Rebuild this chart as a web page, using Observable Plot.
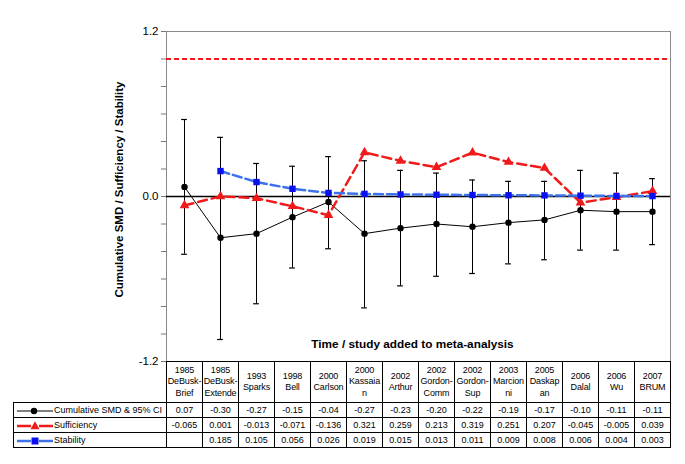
<!DOCTYPE html>
<html>
<head>
<meta charset="utf-8">
<script src="https://cdn.jsdelivr.net/npm/d3@7"></script>
<script src="https://cdn.jsdelivr.net/npm/@observablehq/plot@0.6"></script>
<style>
  body { margin: 0; background: #fff; font-family: "Liberation Sans", Arial, sans-serif; }
  #wrap { position: relative; width: 685px; height: 464px; overflow: hidden; }
  #wrap svg.plot { position: absolute; left: 0; top: 0; }
  table { border-collapse: collapse; position: absolute; left: 13px; top: 361px; table-layout: fixed; font-size: 9px; color: #000; }
  td { border: 1px solid #000; padding: 0; text-align: center; overflow: hidden; white-space: pre-line; }
  tr.head td { height: 40px; line-height: 11.5px; letter-spacing: -0.15px; }
  tr.data td { height: 14px; line-height: 14px; }
  td.blank { border: none; }
  td.leg { text-align: left; white-space: nowrap; }
  td.leg svg { vertical-align: middle; }
</style>
</head>
<body>
<div id="wrap"></div>
<script>
// ---- data ----
const years = ["1985","1985","1993","1998","2000","2000","2002","2002","2002","2003","2005","2006","2006","2007"];
const studies = ["DeBusk-\nBrief","DeBusk-\nExtende","Sparks","Bell","Carlson","Kassaia\nn","Arthur","Gordon-\nComm","Gordon-\nSup","Marcion\nni","Daskap\nan","Dalal","Wu","BRUM"];
const smd = [0.07,-0.30,-0.27,-0.15,-0.04,-0.27,-0.23,-0.20,-0.22,-0.19,-0.17,-0.10,-0.11,-0.11];
const ciLow = [-0.42,-1.04,-0.78,-0.52,-0.38,-0.81,-0.65,-0.58,-0.56,-0.49,-0.46,-0.39,-0.39,-0.35];
const ciHigh = [0.56,0.43,0.24,0.22,0.29,0.26,0.19,0.17,0.12,0.11,0.11,0.19,0.17,0.13];
const sufficiency = [-0.065,0.001,-0.013,-0.071,-0.136,0.321,0.259,0.213,0.319,0.251,0.207,-0.045,-0.005,0.039];
const stability = [null,0.185,0.105,0.056,0.026,0.019,0.015,0.013,0.011,0.009,0.008,0.006,0.004,0.003];
const sufficiencyThreshold = [1.0];
const yTicks = [-1.2,-1.0,-0.8,-0.6,-0.4,-0.2,0,0.2,0.4,0.6,0.8,1.0,1.2];
const yTickLabels = {"-1.2": "-1.2", "0": "0.0", "1.2": "1.2"};
const seriesNames = ["Cumulative SMD & 95% CI", "Sufficiency", "Stability"];
const yTitle = "Cumulative SMD / Sufficiency / Stability";
const xTitle = "Time / study added to meta-analysis";

// ---- colours ----
const RED = "#f01a1a";
const BLUE_LINE = "#3d72ea";
const BLUE_MARK = "#0a10f0";

const idx = d3.range(years.length);
const rows = idx.map(i => ({i, smd: smd[i], lo: ciLow[i], hi: ciHigh[i], suf: sufficiency[i], stab: stability[i]}));
const capHalf = 0.08;

const plot = Plot.plot({
  width: 685,
  height: 464,
  marginTop: 31,
  marginBottom: 103,
  marginLeft: 166,
  marginRight: 15,
  style: {fontFamily: "'Liberation Sans', Arial, sans-serif", fontSize: "11.5px", background: "#fff", color: "#000"},
  x: {type: "linear", domain: [-0.5, years.length - 0.5], axis: null},
  y: {domain: [-1.2, 1.2]},
  marks: [
    Plot.frame({stroke: "#8a8a8a"}),
    Plot.axisY({ticks: yTicks, tickFormat: d => yTickLabels[String(+d.toFixed(1))] ?? "", tickSize: 5, tickPadding: 3, label: null, stroke: "#777", fill: "#000", fontSize: 11.5}),
    Plot.ruleY([0], {stroke: "#000", strokeWidth: 1.5}),
    Plot.ruleY(sufficiencyThreshold, {stroke: RED, strokeWidth: 1.8, strokeDasharray: "5,3"}),
    // error bars
    Plot.ruleX(rows, {x: "i", y1: "lo", y2: "hi", stroke: "#000", strokeWidth: 1}),
    Plot.ruleY(rows, {y: "hi", x1: d => d.i - capHalf, x2: d => d.i + capHalf, stroke: "#000", strokeWidth: 1.2}),
    Plot.ruleY(rows, {y: "lo", x1: d => d.i - capHalf, x2: d => d.i + capHalf, stroke: "#000", strokeWidth: 1.2}),
    Plot.line(rows, {x: "i", y: "smd", stroke: "#000", strokeWidth: 1}),
    Plot.dot(rows, {x: "i", y: "smd", r: 3.2, fill: "#000", stroke: "none"}),
    Plot.line(rows, {x: "i", y: "suf", stroke: RED, strokeWidth: 2.5, strokeDasharray: "9,5"}),
    Plot.dot(rows, {x: "i", y: "suf", symbol: "triangle", r: 3.6, fill: RED, stroke: "none"}),
    Plot.line(rows.filter(d => d.stab != null), {x: "i", y: "stab", stroke: BLUE_LINE, strokeWidth: 2.5, strokeDasharray: "9,4"}),
    Plot.dot(rows.filter(d => d.stab != null), {x: "i", y: "stab", symbol: "square", r: 3.6, fill: BLUE_MARK, stroke: "none"}),
    Plot.text([yTitle], {frameAnchor: "left", textAnchor: "middle", lineAnchor: "middle", rotate: -90, dx: -47, dy: -7, fontWeight: "bold", fontSize: 11.5, fill: "#000"}),
    Plot.text([xTitle], {frameAnchor: "bottom", dx: -6, dy: -14, fontWeight: "bold", fontSize: 11.8, fill: "#000"})
  ]
});
plot.classList.add("plot");
const wrap = document.getElementById("wrap");
wrap.appendChild(plot);

// ---- data table below the plot, aligned to the x scale ----
const xs = plot.scale("x");
const colW = xs.apply(1) - xs.apply(0);
const left0 = 13;
const legW = xs.apply(-0.5) - left0;

const table = d3.select(wrap).append("table");
const cg = table.append("colgroup");
cg.append("col").style("width", legW + "px");
idx.forEach(() => cg.append("col").style("width", colW + "px"));
table.style("width", (legW + colW * years.length) + "px");

const head = table.append("tr").attr("class", "head");
head.append("td").attr("class", "blank");
idx.forEach(i => head.append("td").text(years[i] + "\n" + studies[i]));

function swatch(kind) {
  const s = d3.create("svg").attr("width", 40).attr("height", 10);
  if (kind === 0) {
    s.append("line").attr("x1", 3).attr("x2", 39).attr("y1", 5).attr("y2", 5).attr("stroke", "#000").attr("stroke-width", 1.2);
    s.append("circle").attr("cx", 20).attr("cy", 5).attr("r", 3.2).attr("fill", "#000");
  } else if (kind === 1) {
    s.append("line").attr("x1", 3).attr("x2", 17).attr("y1", 5).attr("y2", 5).attr("stroke", RED).attr("stroke-width", 2.5);
    s.append("line").attr("x1", 25).attr("x2", 39).attr("y1", 5).attr("y2", 5).attr("stroke", RED).attr("stroke-width", 2.5);
    s.append("path").attr("d", d3.symbol(d3.symbolTriangle, 36)()).attr("transform", "translate(21,5.5)").attr("fill", RED);
  } else {
    s.append("line").attr("x1", 3).attr("x2", 17).attr("y1", 5).attr("y2", 5).attr("stroke", BLUE_LINE).attr("stroke-width", 2.5);
    s.append("line").attr("x1", 25).attr("x2", 39).attr("y1", 5).attr("y2", 5).attr("stroke", BLUE_LINE).attr("stroke-width", 2.5);
    s.append("rect").attr("x", 17.5).attr("y", 1.5).attr("width", 7).attr("height", 7).attr("fill", BLUE_MARK);
  }
  return s.node();
}

const seriesVals = [
  smd.map(v => v.toFixed(2)),
  sufficiency.map(v => v.toFixed(3)),
  stability.map(v => v == null ? "" : v.toFixed(3))
];
seriesNames.forEach((name, k) => {
  const tr = table.append("tr").attr("class", "data");
  const lt = tr.append("td").attr("class", "leg");
  lt.node().appendChild(swatch(k));
  lt.append("span").text(name);
  idx.forEach(i => tr.append("td").text(seriesVals[k][i]));
});
</script>
</body>
</html>
